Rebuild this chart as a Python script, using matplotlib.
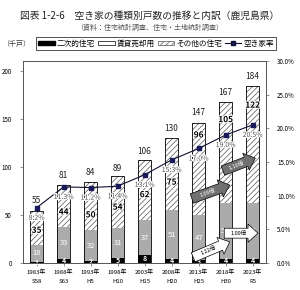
import numpy as np
import matplotlib
matplotlib.use("Agg")
import matplotlib.pyplot as plt
import matplotlib.patheffects as pe
from matplotlib.patches import Patch
from matplotlib.lines import Line2D

plt.rcParams['font.family'] = ['Noto Sans CJK JP', 'DejaVu Sans']
plt.rcParams['hatch.linewidth'] = 0.5

years = ["1983年\nS58", "1988年\nS63", "1993年\nH5", "1998年\nH10", "2003年\nH15",
         "2008年\nH20", "2013年\nH25", "2018年\nH30", "2023年\nR5"]
niji = [1, 4, 2, 5, 8, 4, 3, 4, 4]          # 二次的住宅
chintai = [18, 33, 32, 31, 37, 51, 47, 58, 58]  # 賃貸売却用
sonota = [35, 44, 50, 54, 62, 75, 96, 105, 122]  # その他の住宅
total = [55, 81, 84, 89, 106, 130, 147, 167, 184]
rate = [8.2, 11.3, 11.2, 11.4, 13.1, 15.3, 17.0, 19.0, 20.5]  # 空き家率(%)

# その他の住宅ラベルの高さ（千戸）
sonota_label_y = [34, 53, 50, 58, 71, 84, 133, 149, 164]

# 倍率の矢印 (始点x, 始点y, 終点x, 終点y, 文字, 色)
arrows = [
    (5.75, 67, 7.15, 81, "1.09倍", "#707070"),
    (6.9, 96, 8.1, 109, "1.16倍", "#707070"),
    (5.8, 6, 7.15, 22, "1.22倍", "white"),
    (6.95, 31, 8.2, 31, "1.00倍", "white"),
]

fig = plt.figure(figsize=(3.0, 2.9), dpi=100)
ax = fig.add_axes([0.077, 0.093, 0.81, 0.697])
ax2 = ax.twinx()

x = np.arange(len(years))
w = 0.5
gray = "#ababab"
niji = np.array(niji)
chintai = np.array(chintai)
sonota = np.array(sonota)

ax.bar(x, niji, w, color="black", linewidth=0, zorder=2)
ax.bar(x, chintai, w, bottom=niji, color=gray, linewidth=0, zorder=2)
ax.bar(x, sonota, w, bottom=niji + chintai, color="white", hatch="//////",
       edgecolor="#555555", linewidth=0, zorder=2)
ax.bar(x, niji + chintai + sonota, w, fill=False, edgecolor="black", linewidth=0.6, zorder=3)

for i in range(len(x)):
    ax.text(x[i], niji[i] / 2 + 0.5, str(niji[i]), ha="center", va="center",
            fontsize=5, color="white", fontweight="bold", zorder=4)
    ax.text(x[i], niji[i] + chintai[i] / 2, str(chintai[i]), ha="center", va="center",
            fontsize=5.5, color="white", zorder=4)
    ax.text(x[i], sonota_label_y[i], str(sonota[i]), ha="center",
            va="center", fontsize=6, color="black", fontweight="bold", zorder=4,
            path_effects=[pe.withStroke(linewidth=1.5, foreground="white")])
    ax.text(x[i], total[i] + 5, str(total[i]), ha="center", va="bottom",
            fontsize=6, color="#222222", zorder=4)

ax.set_xlim(-0.5, len(x) - 0.5)
ax.set_ylim(0, 210)
ax.set_yticks([0, 50, 100, 150, 200])
ax.set_xticks(x)
ax.set_xticklabels(years, fontsize=4.3, linespacing=1.9)
ax.tick_params(axis="y", labelsize=4.5, length=2, width=0.5, color="#666666", pad=6)
ax.tick_params(axis="x", length=2, width=0.5, color="#666666", pad=3)

ax2.plot(x, rate, color="#111133", linewidth=0.8, marker="s", markersize=3,
         markerfacecolor="#1a1a5a", markeredgecolor="#1a1a5a", zorder=5)
for i in range(len(x)):
    ax2.text(x[i], rate[i] - 0.9, f"{rate[i]:.1f}%", ha="center", va="top",
             fontsize=5, color="#555555", zorder=6,
             path_effects=[pe.withStroke(linewidth=1.5, foreground="white")])
ax2.set_ylim(0, 30)
ax2.set_yticks([0, 5, 10, 15, 20, 25, 30])
ax2.set_yticklabels([f"{v:.1f}%" for v in [0, 5, 10, 15, 20, 25, 30]])
ax2.tick_params(axis="y", labelsize=4.5, length=2, width=0.5, color="#666666", pad=6)
ax2.set_zorder(ax.get_zorder() + 1)
ax2.patch.set_visible(False)

for a in (ax, ax2):
    for s in a.spines.values():
        s.set_linewidth(0.6)
        s.set_color("#555555")

fig.canvas.draw()
for x0, y0, x1, y1, label, col in arrows:
    ax.annotate("", xy=(x1, y1), xytext=(x0, y0),
                arrowprops=dict(arrowstyle="simple,head_length=0.55,head_width=1.0,tail_width=0.55",
                                facecolor=col, edgecolor="black", linewidth=0.5,
                                mutation_scale=13, shrinkA=0, shrinkB=0),
                zorder=7)
    p0 = ax.transData.transform((x0, y0))
    p1 = ax.transData.transform((x1, y1))
    ang = np.degrees(np.arctan2(p1[1] - p0[1], p1[0] - p0[0]))
    tc = "white" if col != "white" else "black"
    ax.text((x0 * 0.58 + x1 * 0.42), (y0 * 0.58 + y1 * 0.42), label, rotation=ang,
            rotation_mode="anchor", ha="center", va="center", fontsize=4, color=tc, zorder=8)

fig.text(0.5, 0.945, "図表 1-2-6　空き家の種類別戸数の推移と内訳（鹿児島県）",
         ha="center", va="center", fontsize=7, color="#222222")
fig.text(0.5, 0.905, "（資料：住宅統計調査、住宅・土地統計調査）",
         ha="center", va="center", fontsize=5, color="#555555")
fig.text(0.055, 0.848, "（千戸）", ha="center", va="center", fontsize=5, color="#333333")

handles = [
    Patch(facecolor="black", edgecolor="black"),
    Patch(facecolor="white", edgecolor="black", linewidth=0.5),
    Patch(facecolor="white", edgecolor="#555555", hatch="//////", linewidth=0.5),
    Line2D([0], [0], color="#111133", linewidth=0.8, marker="s", markersize=3,
           markerfacecolor="#1a1a5a"),
]
labels = ["二次的住宅", "賃貸売却用", "その他の住宅", "空き家率"]
leg = fig.legend(handles, labels, loc="center", bbox_to_anchor=(0.52, 0.85), ncol=4,
                 fontsize=5.5, frameon=True, fancybox=False, edgecolor="black",
                 handlelength=2.2, handleheight=0.5, handletextpad=0.2, columnspacing=0.4,
                 borderpad=0.3, borderaxespad=0)
leg.get_frame().set_linewidth(0.6)

fig.savefig("out.png", dpi=100)
